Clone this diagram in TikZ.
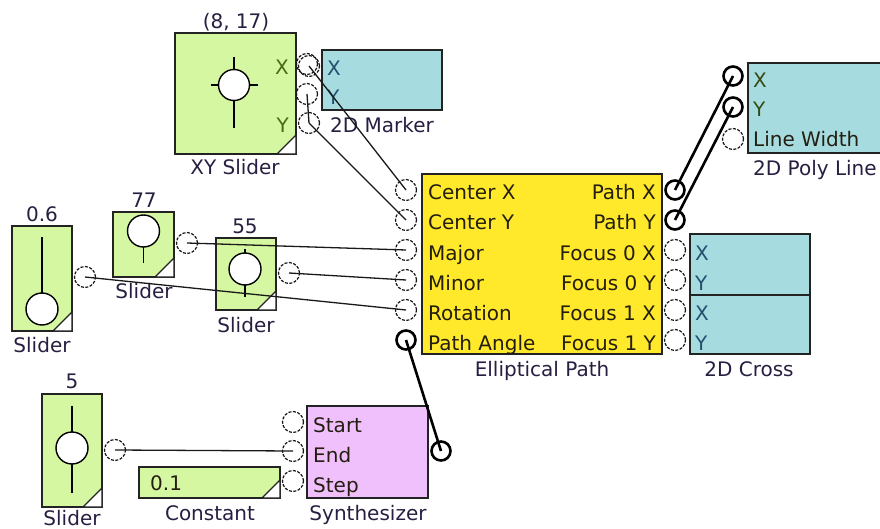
\documentclass[tikz,border=0pt]{standalone}
\usepackage{fontspec}
\setmainfont{DejaVu Sans}
\definecolor{sgreen}{RGB}{214,247,161}
\definecolor{yel}{RGB}{255,233,42}
\definecolor{cyanb}{RGB}{166,220,224}
\definecolor{pinkb}{RGB}{240,192,252}
\definecolor{bord}{RGB}{35,35,35}
\definecolor{txt}{RGB}{40,30,65}
\definecolor{intxt}{RGB}{35,30,15}
\definecolor{xyc}{RGB}{75,105,25}
\definecolor{cyc}{RGB}{35,80,110}
\begin{document}
\begin{tikzpicture}[x=1pt,y=-1pt,
  box/.style={draw=bord, line width=1.4pt},
  knob/.style={draw=black, line width=1.4pt},
  corner/.style={draw=bord, line width=1.1pt, fill=white},
  tport/.style={circle, draw=black!90, dash pattern=on 3pt off 1.5pt, line width=1.2pt, minimum size=21pt, inner sep=0pt},
  bport/.style={circle, draw=black, line width=2.6pt, minimum size=19pt, inner sep=0pt},
  wire/.style={draw=black!90, line width=1.3pt},
  bwire/.style={draw=black, line width=2.6pt},
  lab/.style={font=\fontsize{20}{22}\selectfont, text=txt, inner sep=0pt},
  ilab/.style={lab, text=intxt}
]
\useasboundingbox (0,0) rectangle (880,529);
\clip (0,0) rectangle (880,529);

% ---------- XY Slider ----------
\draw[box, fill=sgreen] (175,33) rectangle (296,154);
\draw[corner] (277,154) -- (296,135) -- (296,154) -- cycle;
\draw[knob] (211,85) -- (258,85) (234,57) -- (234,128);
\draw[knob, fill=white] (234,85) circle[radius=15.5];
\node[lab, anchor=base] (t817) at (236,29) {(8, 17)};
\node[lab, anchor=base] (txys) at (235,175) {XY Slider};
\node[lab, anchor=base east, text=xyc] (txyx) at (289,75) {X};
\node[lab, anchor=base east, text=xyc] (txyy) at (289,133) {Y};

% ---------- 2D Marker ----------
\draw[box, fill=cyanb] (322,50) rectangle (442,110);
\node[lab, anchor=base west, text=cyc] (tmkx) at (327,76) {X};
\node[lab, anchor=base west, text=cyc] (tmky) at (327,105) {Y};
\node[lab, anchor=base] (tmk) at (382,133) {2D Marker};

% ---------- Elliptical Path ----------
\draw[box, fill=yel] (422,174) rectangle (662,354);
\foreach \t [count=\i from 0] in {Center X,Center Y,Major,Minor,Rotation,Path Angle}
  \node[ilab, anchor=base west] (tel\i) at (428,200+30*\i) {\t};
\foreach \t [count=\i from 0] in {Path X,Path Y,Focus 0 X,Focus 0 Y,Focus 1 X,Focus 1 Y}
  \node[ilab, anchor=base east] (ter\i) at (656,200+30*\i) {\t};
\node[lab, anchor=base] (tel) at (542,376) {Elliptical Path};

% ---------- 2D Cross ----------
\draw[box, fill=cyanb] (690,234) rectangle (810,354);
\draw[box] (690,295) -- (810,295);
\foreach \t [count=\i from 0] in {X,Y,X,Y}
  \node[lab, anchor=base west, text=cyc] (tcr\i) at (695,260+30*\i) {\t};
\node[lab, anchor=base] (tcr) at (749,376) {2D Cross};

% ---------- 2D Poly Line ----------
\draw[box, fill=cyanb] (748,63) rectangle (900,153);
\node[lab, anchor=base west, text=xyc!70!black] (tplx) at (753,88) {X};
\node[lab, anchor=base west, text=xyc!70!black] (tply) at (753,117) {Y};
\node[ilab, anchor=base west] (tplw) at (753,147) {Line Width};
\node[lab, anchor=base west] (tpl) at (753,176) {2D Poly Line};

% ---------- Slider 0.6 ----------
\draw[box, fill=sgreen] (12,226) rectangle (72,331);
\draw[corner] (53,331) -- (72,312) -- (72,331) -- cycle;
\draw[knob] (42,237) -- (42,300);
\draw[knob, fill=white] (42,309) circle[radius=16];
\node[lab, anchor=base] (ts06v) at (42,222) {0.6};
\node[lab, anchor=base] (ts06) at (42,352) {Slider};

% ---------- Slider 77 ----------
\draw[box, fill=sgreen] (113,212) rectangle (174,277);
\draw[corner] (155,277) -- (174,258) -- (174,277) -- cycle;
\draw[knob] (143.5,235) -- (143.5,263);
\draw[knob, fill=white] (143.5,231) circle[radius=16];
\node[lab, anchor=base] (ts77v) at (144,208) {77};
\node[lab, anchor=base] (ts77) at (144,298) {Slider};

% ---------- Slider 55 ----------
\draw[box, fill=sgreen] (216,238) rectangle (276,310);
\draw[corner] (257,310) -- (276,291) -- (276,310) -- cycle;
\draw[knob] (245,249) -- (245,297);
\draw[knob, fill=white] (245,269) circle[radius=16];
\node[lab, anchor=base] (ts55v) at (245,234) {55};
\node[lab, anchor=base] (ts55) at (246,332) {Slider};

% ---------- Slider 5 ----------
\draw[box, fill=sgreen] (42,394) rectangle (102,507);
\draw[corner] (83,507) -- (102,488) -- (102,507) -- cycle;
\draw[knob] (72,406) -- (72,493);
\draw[knob, fill=white] (72,448) circle[radius=16];
\node[lab, anchor=base] (ts5v) at (72,388) {5};
\node[lab, anchor=base] (ts5) at (72,525) {Slider};

% ---------- Constant ----------
\draw[box, fill=sgreen] (139,467) rectangle (280,498);
\draw[corner] (262,498) -- (280,480) -- (280,498) -- cycle;
\node[ilab, anchor=base west] (tcv) at (150,490) {0.1};
\node[lab, anchor=base] (tc) at (210,520) {Constant};

% ---------- Synthesizer ----------
\draw[box, fill=pinkb] (307,406) rectangle (428,498);
\node[ilab, anchor=base west] (tss) at (313,432) {Start};
\node[ilab, anchor=base west] (tse) at (313,462) {End};
\node[ilab, anchor=base west] (tst) at (313,492) {Step};
\node[lab, anchor=base] (tsy) at (368,520) {Synthesizer};

% ---------- ports ----------
\node[tport] (mkX) at (307,64) {};
\node[tport] (xyX) at (309,66) {};
\node[tport] (mkY) at (307,94) {};
\node[tport] (xyY) at (309,123) {};
\foreach \i in {0,...,4} \node[tport] (ei\i) at (406,190+30*\i) {};
\node[bport] (ei5) at (406,340) {};
\node[bport] (eo0) at (675,190) {};
\node[bport] (eo1) at (675,220) {};
\foreach \i in {2,...,5} \node[tport] (eo\i) at (675,190+30*\i) {};
\node[bport] (plX) at (733,76) {};
\node[bport] (plY) at (733,107) {};
\node[tport] (plW) at (733,139) {};
\node[tport] (s06) at (85,277) {};
\node[tport] (s77) at (187,243) {};
\node[tport] (s55) at (289,273) {};
\node[tport] (s5) at (115,450) {};
\node[tport] (syS) at (293,422) {};
\node[tport] (syE) at (293,451) {};
\node[tport] (syT) at (293,481) {};
\node[bport] (syO) at (441,451) {};

% ---------- wires ----------
\draw[wire] (xyX.center) -- (ei0.center);
\draw[wire] (xyY.center) -- (ei1.center);
\draw[wire] (mkY.center) -- (xyY.center);
\draw[wire] (s77.center) -- (ei2.center);
\draw[wire] (s55.center) -- (ei3.center);
\draw[wire] (s06.center) -- (ei4.center);
\draw[wire] (s5.center) -- (syE.center);
\draw[bwire] (syO.center) -- (ei5.center);
\draw[bwire] (eo0.center) -- (plX.center);
\draw[bwire] (eo1.center) -- (plY.center);
\end{tikzpicture}
\end{document}
